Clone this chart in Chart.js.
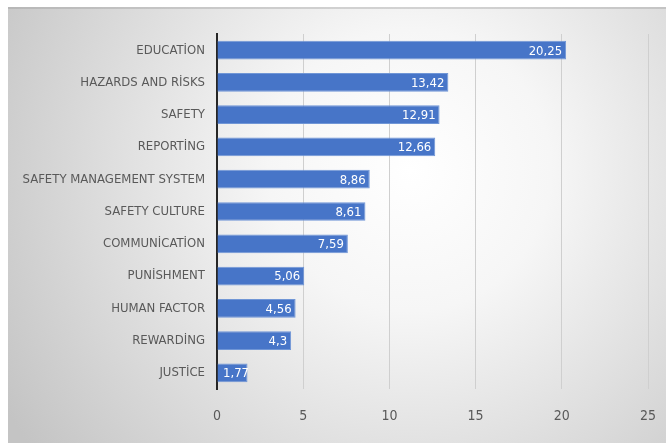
<!DOCTYPE html>
<html>
<head>
<meta charset="utf-8">
<script src="https://cdn.jsdelivr.net/npm/chart.js@4/dist/chart.umd.min.js"></script>
<style>
html,body{margin:0;padding:0;background:#fff;}
#wrap{position:absolute;left:0;top:0;width:666px;height:443px;}
</style>
</head>
<body>
<div id="wrap"><canvas id="c" width="666" height="443"></canvas></div>
<script>
const categories = ["EDUCATİON","HAZARDS AND RİSKS","SAFETY","REPORTİNG","SAFETY MANAGEMENT SYSTEM","SAFETY CULTURE","COMMUNİCATİON","PUNİSHMENT","HUMAN FACTOR","REWARDİNG","JUSTİCE"];
const values = [20.25,13.42,12.91,12.66,8.86,8.61,7.59,5.06,4.56,4.3,1.77];
const xTicks = [0,5,10,15,20,25];

const FONT = "'Liberation Sans Narrow','DejaVu Sans Condensed','Arial Narrow',sans-serif";

const bgPlugin = {
  id:'bg',
  beforeDraw(chart){
    const ctx = chart.ctx;
    ctx.save();
    const g = ctx.createRadialGradient(410,170,0,410,170,470);
    g.addColorStop(0,'#ffffff');
    g.addColorStop(0.3,'#f6f6f6');
    g.addColorStop(1,'#c4c4c4');
    ctx.fillStyle = g;
    ctx.fillRect(8,7,658,436);
    ctx.fillStyle = 'rgba(150,150,150,0.35)';
    ctx.fillRect(8,7,658,2);
    ctx.restore();
  }
};

const labelPlugin = {
  id:'vals',
  afterDatasetsDraw(chart){
    const ctx = chart.ctx;
    const meta = chart.getDatasetMeta(0);
    const base = chart.scales.x.getPixelForValue(0);
    ctx.save();
    ctx.font = "13px " + FONT;
    ctx.fillStyle = '#ffffff';
    ctx.textAlign = 'right';
    ctx.textBaseline = 'middle';
    meta.data.forEach((bar,i)=>{
      const txt = String(values[i]).replace('.',',');
      const w = ctx.measureText(txt).width;
      const x = Math.max(bar.x - 4, base + 6 + w);
      ctx.fillText(txt, x, bar.y + 1);
    });
    ctx.restore();
  }
};

new Chart(document.getElementById('c'), {
  type:'bar',
  data:{
    labels: categories,
    datasets:[{
      data: values,
      backgroundColor:'#4775c8',
      borderColor:'#7096d6',
      borderWidth:1,
      barPercentage:0.58,
      categoryPercentage:1
    }]
  },
  options:{
    indexAxis:'y',
    responsive:false,
    animation:false,
    layout:{padding:{top:34,right:0,left:0,bottom:0}},
    plugins:{legend:{display:false},tooltip:{enabled:false}},
    scales:{
      x:{
        min:0,max:25,
        afterBuildTicks(scale){ scale.ticks = xTicks.map(v=>({value:v})); },
        afterFit(scale){ scale.height = 54; scale.paddingRight = 18; scale.paddingLeft = 0; },
        grid:{color:'#cfcfcf',lineWidth:1,drawTicks:false},
        border:{display:false},
        ticks:{color:'#595959',padding:19,font:{family:FONT,size:14}}
      },
      y:{
        afterFit(scale){ scale.width = 217; },
        grid:{display:false,drawTicks:false},
        border:{display:true,color:'#262626',width:2},
        ticks:{color:'#595959',padding:12,font:{family:FONT,size:13}}
      }
    }
  },
  plugins:[bgPlugin,labelPlugin]
});
</script>
</body>
</html>
